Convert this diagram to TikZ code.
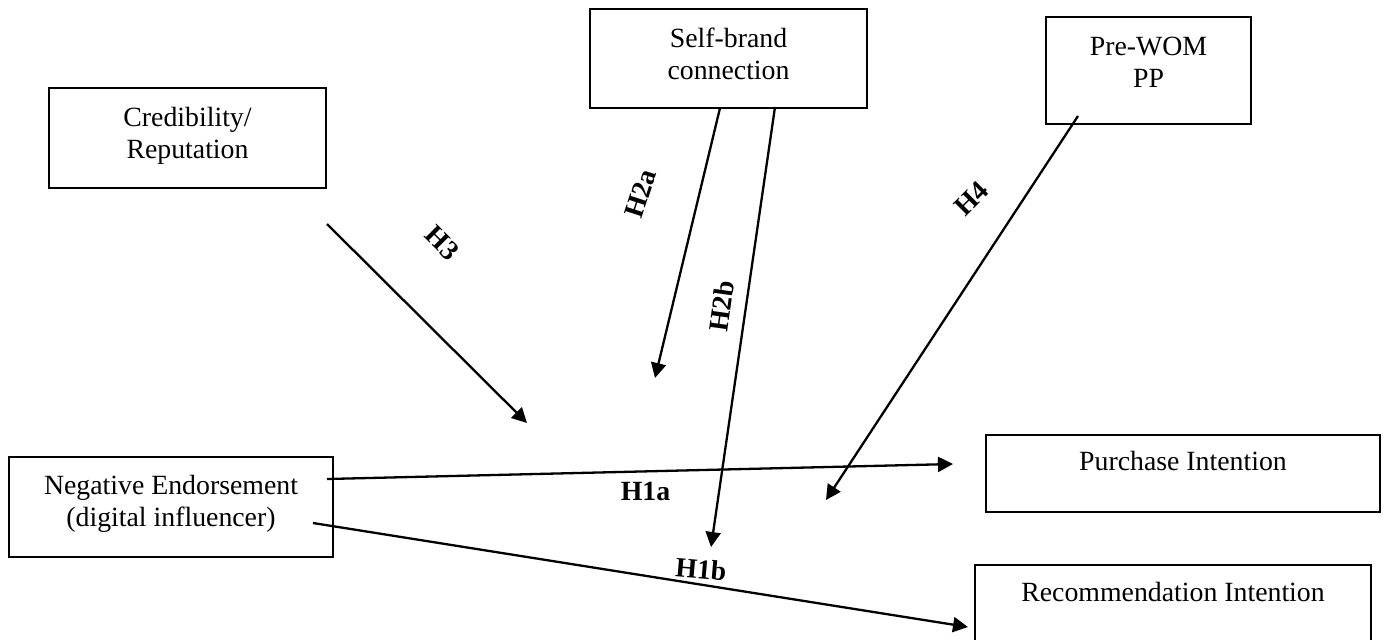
\documentclass[tikz,border=0pt]{standalone}
\usepackage{fontspec}
\setmainfont{Liberation Serif}
\usetikzlibrary{arrows.meta}
\newcommand\boxtxt[2]{\raisebox{0pt}[\height][\dimexpr\depth+#1pt\relax]{\begin{tabular}{@{}c@{}}#2\end{tabular}}}
\begin{document}
\begin{tikzpicture}[x=0.5pt,y=-0.5pt,
  blk/.style={draw, line width=1.35pt, inner sep=0pt, font=\fontsize{13.9}{16}\selectfont},
  hyp/.style={font=\fontsize{13.9}{16}\selectfont\bfseries, inner sep=0pt},
  conn/.style={line width=1.15pt, -{Triangle[length=7.5pt,width=7.5pt]}}]
\useasboundingbox (0,0) rectangle (1386,639);
% boxes
\node[blk, minimum width=138.5pt, minimum height=50pt] (cred) at (187.5,138) {\boxtxt{1.5}{Credibility/\\Reputation}};
\node[blk, minimum width=138.5pt, minimum height=49.5pt] (sbc) at (728.5,58.5) {\boxtxt{1.3}{Self-brand\\connection}};
\node[blk, minimum width=102.5pt, minimum height=53.5pt] (pwom) at (1148.5,70.5) {\boxtxt{5}{Pre-WOM\\PP}};
\node[blk, minimum width=162pt, minimum height=50pt] (neg) at (171,507) {\boxtxt{3}{Negative Endorsement\\(digital influencer)}};
\node[blk, minimum width=197pt, minimum height=38.5pt] (pi) at (1183,473.5) {\boxtxt{9.2}{Purchase Intention}};
\node[blk, minimum width=198pt, minimum height=38.5pt] (ri) at (1173,603.5) {\boxtxt{8}{Recommendation Intention}};
% connector end points
\coordinate (h3s) at (327,224);  \coordinate (h3e) at (527,423);
\coordinate (h2as) at (720,108); \coordinate (h2ae) at (655,378);
\coordinate (h2bs) at (775,107); \coordinate (h2be) at (711,547);
\coordinate (h4s) at (1078,116); \coordinate (h4e) at (826,500);
\coordinate (h1as) at (327,479); \coordinate (h1ae) at (953,464);
\coordinate (h1bs) at (313,523); \coordinate (h1be) at (968,627);
% connectors
\draw[conn] (h3s) -- (h3e);
\draw[conn] (h2as) -- (h2ae);
\draw[conn] (h2bs) -- (h2be);
\draw[conn] (h4s) -- (h4e);
\draw[conn] (h1as) -- (h1ae);
\draw[conn] (h1bs) -- (h1be);
% labels
\node[hyp, rotate=-45] (lh3) at (442,243) {H3};
\node[hyp, rotate=72] (lh2a) at (640.5,193.5) {H2a};
\node[hyp, rotate=82] (lh2b) at (721.5,306) {H2b};
\node[hyp, rotate=45] (lh4) at (971.5,198.5) {H4};
\node[hyp] (lh1a) at (645.5,491) {H1a};
\node[hyp, rotate=-5] (lh1b) at (701,569) {H1b};
\end{tikzpicture}
\end{document}
